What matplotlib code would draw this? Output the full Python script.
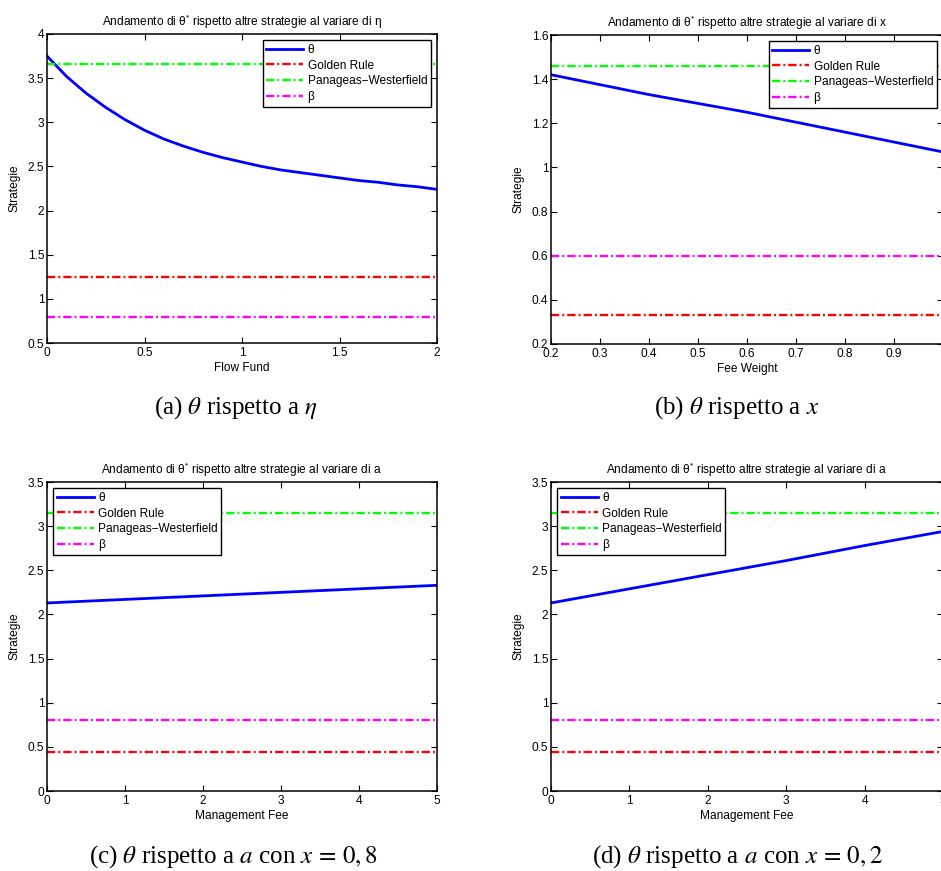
import matplotlib.pyplot as plt
from matplotlib.ticker import FormatStrFormatter

plt.rcParams['font.family'] = ['Liberation Sans', 'DejaVu Sans']
plt.rcParams['mathtext.fontset'] = 'custom'
plt.rcParams['mathtext.rm'] = 'Liberation Sans'
plt.rcParams['mathtext.it'] = 'Liberation Sans:italic'

# (a) theta against the flow fund eta
flow_fund = [0.0, 0.1, 0.2, 0.3, 0.4, 0.5, 0.6, 0.7, 0.8, 0.9, 1.0,
             1.1, 1.2, 1.3, 1.4, 1.5, 1.6, 1.7, 1.8, 1.9, 2.0]
theta_flow = [3.75, 3.52, 3.33, 3.17, 3.03, 2.91, 2.81, 2.73, 2.66, 2.60, 2.55,
              2.50, 2.46, 2.43, 2.40, 2.37, 2.34, 2.32, 2.29, 2.27, 2.24]
golden_a, panageas_a, beta_a = 1.25, 3.66, 0.80

# (b) theta against the fee weight x
fee_weight = [0.2, 0.4, 0.6, 0.8, 1.0]
theta_fee = [1.42, 1.33, 1.25, 1.16, 1.07]
golden_b, panageas_b, beta_b = 0.333, 1.46, 0.60

# (c) and (d) theta against the management fee a
mgmt_fee = [0, 1, 2, 3, 4, 5]
theta_mgmt_08 = [2.13, 2.17, 2.21, 2.25, 2.29, 2.33]
theta_mgmt_02 = [2.13, 2.29, 2.45, 2.61, 2.78, 2.94]
golden_cd, panageas_cd, beta_cd = 0.445, 3.15, 0.80

labels = ['θ', 'Golden Rule', 'Panageas\u2212Westerfield', 'β']
dashdot = (0, (3.5, 1.3, 0.8, 1.3))
FS = 8.6


def panel(ax, x, theta, golden, panageas, beta, title, xlabel, xlim, ylim,
          xticks, yticks, legend_loc):
    ax.plot(x, theta, color='#0000ff', lw=2.0, label=labels[0])
    ax.plot(xlim, [golden, golden], color='#ff0000', lw=1.7, ls=dashdot, label=labels[1])
    ax.plot(xlim, [panageas, panageas], color='#00ff00', lw=1.7, ls=dashdot, label=labels[2])
    ax.plot(xlim, [beta, beta], color='#ff00ff', lw=1.7, ls=dashdot, label=labels[3])
    ax.set_xlim(xlim)
    ax.set_ylim(ylim)
    ax.set_xticks(xticks)
    ax.set_yticks(yticks)
    ax.xaxis.set_major_formatter(FormatStrFormatter('%g'))
    ax.yaxis.set_major_formatter(FormatStrFormatter('%g'))
    ax.tick_params(direction='in', top=True, right=True, length=4, width=0.8,
                   labelsize=FS)
    ax.tick_params(axis='x', pad=3)
    ax.tick_params(axis='y', pad=2)
    for s in ax.spines.values():
        s.set_linewidth(1.1)
    ax.set_title(title, fontsize=FS, pad=6)
    ax.set_xlabel(xlabel, fontsize=FS, labelpad=2)
    ax.set_ylabel('Strategie', fontsize=FS, labelpad=5)
    leg = ax.legend(loc=legend_loc, fontsize=FS, handlelength=3.1, handletextpad=0.35,
                    labelspacing=0.32, borderpad=0.32, borderaxespad=0.5,
                    fancybox=False, framealpha=1, edgecolor='black')
    leg.get_frame().set_linewidth(1.0)


fig = plt.figure(figsize=(9.41, 8.71), dpi=100)
W, H = 941, 871


def add_axes(left, top, width=390, height=309):
    return fig.add_axes([left / W, 1 - (top + height) / H, width / W, height / H])


ax_a = add_axes(47, 34)
ax_b = add_axes(551, 35, width=392)
ax_c = add_axes(47, 482)
ax_d = add_axes(551, 482, width=392)

t_eta = 'Andamento di θ$^{*}$ rispetto altre strategie al variare di η'
t_x = 'Andamento di θ$^{*}$ rispetto altre strategie al variare di x'
t_a = 'Andamento di θ$^{*}$ rispetto altre strategie al variare di a'

panel(ax_a, flow_fund, theta_flow, golden_a, panageas_a, beta_a, t_eta, 'Flow Fund',
      [0, 2], [0.5, 4], [0, 0.5, 1, 1.5, 2], [0.5, 1, 1.5, 2, 2.5, 3, 3.5, 4], 'upper right')
panel(ax_b, fee_weight, theta_fee, golden_b, panageas_b, beta_b, t_x, 'Fee Weight',
      [0.2, 1.0], [0.2, 1.6], [0.2, 0.3, 0.4, 0.5, 0.6, 0.7, 0.8, 0.9, 1.0],
      [0.2, 0.4, 0.6, 0.8, 1, 1.2, 1.4, 1.6], 'upper right')
panel(ax_c, mgmt_fee, theta_mgmt_08, golden_cd, panageas_cd, beta_cd, t_a, 'Management Fee',
      [0, 5], [0, 3.5], [0, 1, 2, 3, 4, 5], [0, 0.5, 1, 1.5, 2, 2.5, 3, 3.5], 'upper left')
panel(ax_d, mgmt_fee, theta_mgmt_02, golden_cd, panageas_cd, beta_cd, t_a, 'Management Fee',
      [0, 5], [0, 3.5], [0, 1, 2, 3, 4, 5], [0, 0.5, 1, 1.5, 2, 2.5, 3, 3.5], 'upper left')

# subfigure captions
cap = dict(fontsize=18, fontfamily='Liberation Serif', math_fontfamily='stix',
           ha='center', va='center')
fig.text(236 / W, 1 - 408 / H, r'(a) $\theta$ rispetto a $\eta$', **cap)
fig.text(737 / W, 1 - 408 / H, r'(b) $\theta$ rispetto a $x$', **cap)
fig.text(233 / W, 1 - 857 / H, r'(c) $\theta$ rispetto a $a$ con $x\,=\,0,8$', **cap)
fig.text(737 / W, 1 - 857 / H, r'(d) $\theta$ rispetto a $a$ con $x\,=\,0,2$', **cap)

fig.savefig('out.png', dpi=100)
